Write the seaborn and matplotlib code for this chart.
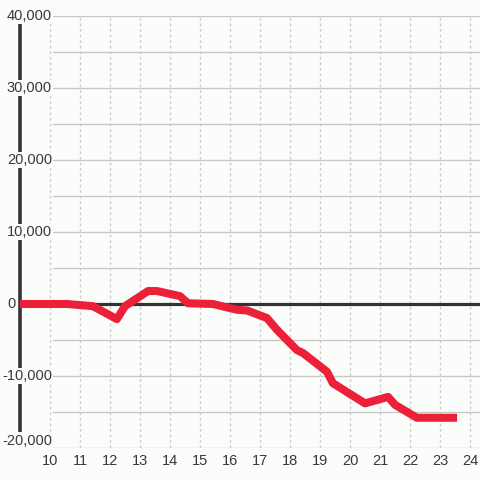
import pandas as pd
import matplotlib
matplotlib.use("Agg")
import matplotlib.pyplot as plt
import matplotlib.transforms as mtransforms
import seaborn as sns

# values
hours = [9.0, 10.57, 11.43, 12.23, 12.5, 13.27, 13.57, 14.33, 14.6, 15.43,
         16.23, 16.57, 17.23, 17.57, 18.23, 18.43, 19.23, 19.43, 20.5,
         21.27, 21.5, 22.23, 23.57]
values = [0, 0, -300, -2100, -300, 1800, 1800, 1100, 100, 0,
          -800, -900, -1950, -3600, -6400, -6800, -9400, -11000, -13800,
          -12900, -14000, -15800, -15800]
x_ticks = list(range(10, 25))
y_ticks = [-20000, -10000, 0, 10000, 20000, 30000, 40000]
y_grid = [-20000, -15000, -10000, -5000, 5000, 10000, 15000, 20000, 25000, 30000, 35000, 40000]

df = pd.DataFrame({"hour": hours, "value": values})

sns.set_style("white")
plt.rcParams["font.family"] = ["Liberation Sans", "DejaVu Sans"]
bg = "#fbfdfb"
txt = "#383838"

fig = plt.figure(figsize=(4.8, 4.8), dpi=100, facecolor=bg)
ax = fig.add_axes([20 / 480, 32 / 480, 460 / 480, 432 / 480], facecolor=bg)
ax.set_xlim(9, 9 + 460 / 30)
ax.set_ylim(-20000, 40000)

# grid
for y in y_grid:
    ax.axhline(y, xmin=33 / 460, xmax=1, color="#c8c8c8", lw=1, zorder=1)
for x in x_ticks:
    ax.axvline(x, color="#cccccc", lw=1, ls=(0, (2, 2)), zorder=1)

ax.axhline(0, color="#333333", lw=2.3, zorder=2)

sns.lineplot(data=df, x="hour", y="value", color="#ec2138", lw=5.8,
             solid_capstyle="butt", solid_joinstyle="round", ax=ax, zorder=3)

for s in ["top", "right", "bottom"]:
    ax.spines[s].set_visible(False)
ax.spines["left"].set_color("#333333")
ax.spines["left"].set_linewidth(2.6)
ax.spines["left"].set_bounds(-18200, 38900)
ax.spines["left"].set_zorder(2)

ax.set_xticks(x_ticks)
ax.set_xticklabels([str(t) for t in x_ticks])
ax.tick_params(axis="x", length=0, pad=4, labelsize=10.5, labelcolor=txt)
ax.set_yticks([])
ax.set_xlabel("")
ax.set_ylabel("")

# y labels sit inside the plot, on a background patch over the axis line
trans = mtransforms.blended_transform_factory(fig.transFigure, ax.transData)
for t in y_ticks:
    if t == 0:
        xpos, ha = 16 / 480, "right"
    else:
        xpos, ha = 52 / 480, "right"
    ypos = t
    if t == -20000:
        ypos = -19000
    ax.text(xpos, ypos, f"{t:,}", transform=trans, ha=ha, va="center",
            fontsize=10.5, color=txt, zorder=6, clip_on=False,
            bbox=dict(facecolor=bg, edgecolor="none", pad=1.0))

fig.savefig("out.png", dpi=100, facecolor=bg)
